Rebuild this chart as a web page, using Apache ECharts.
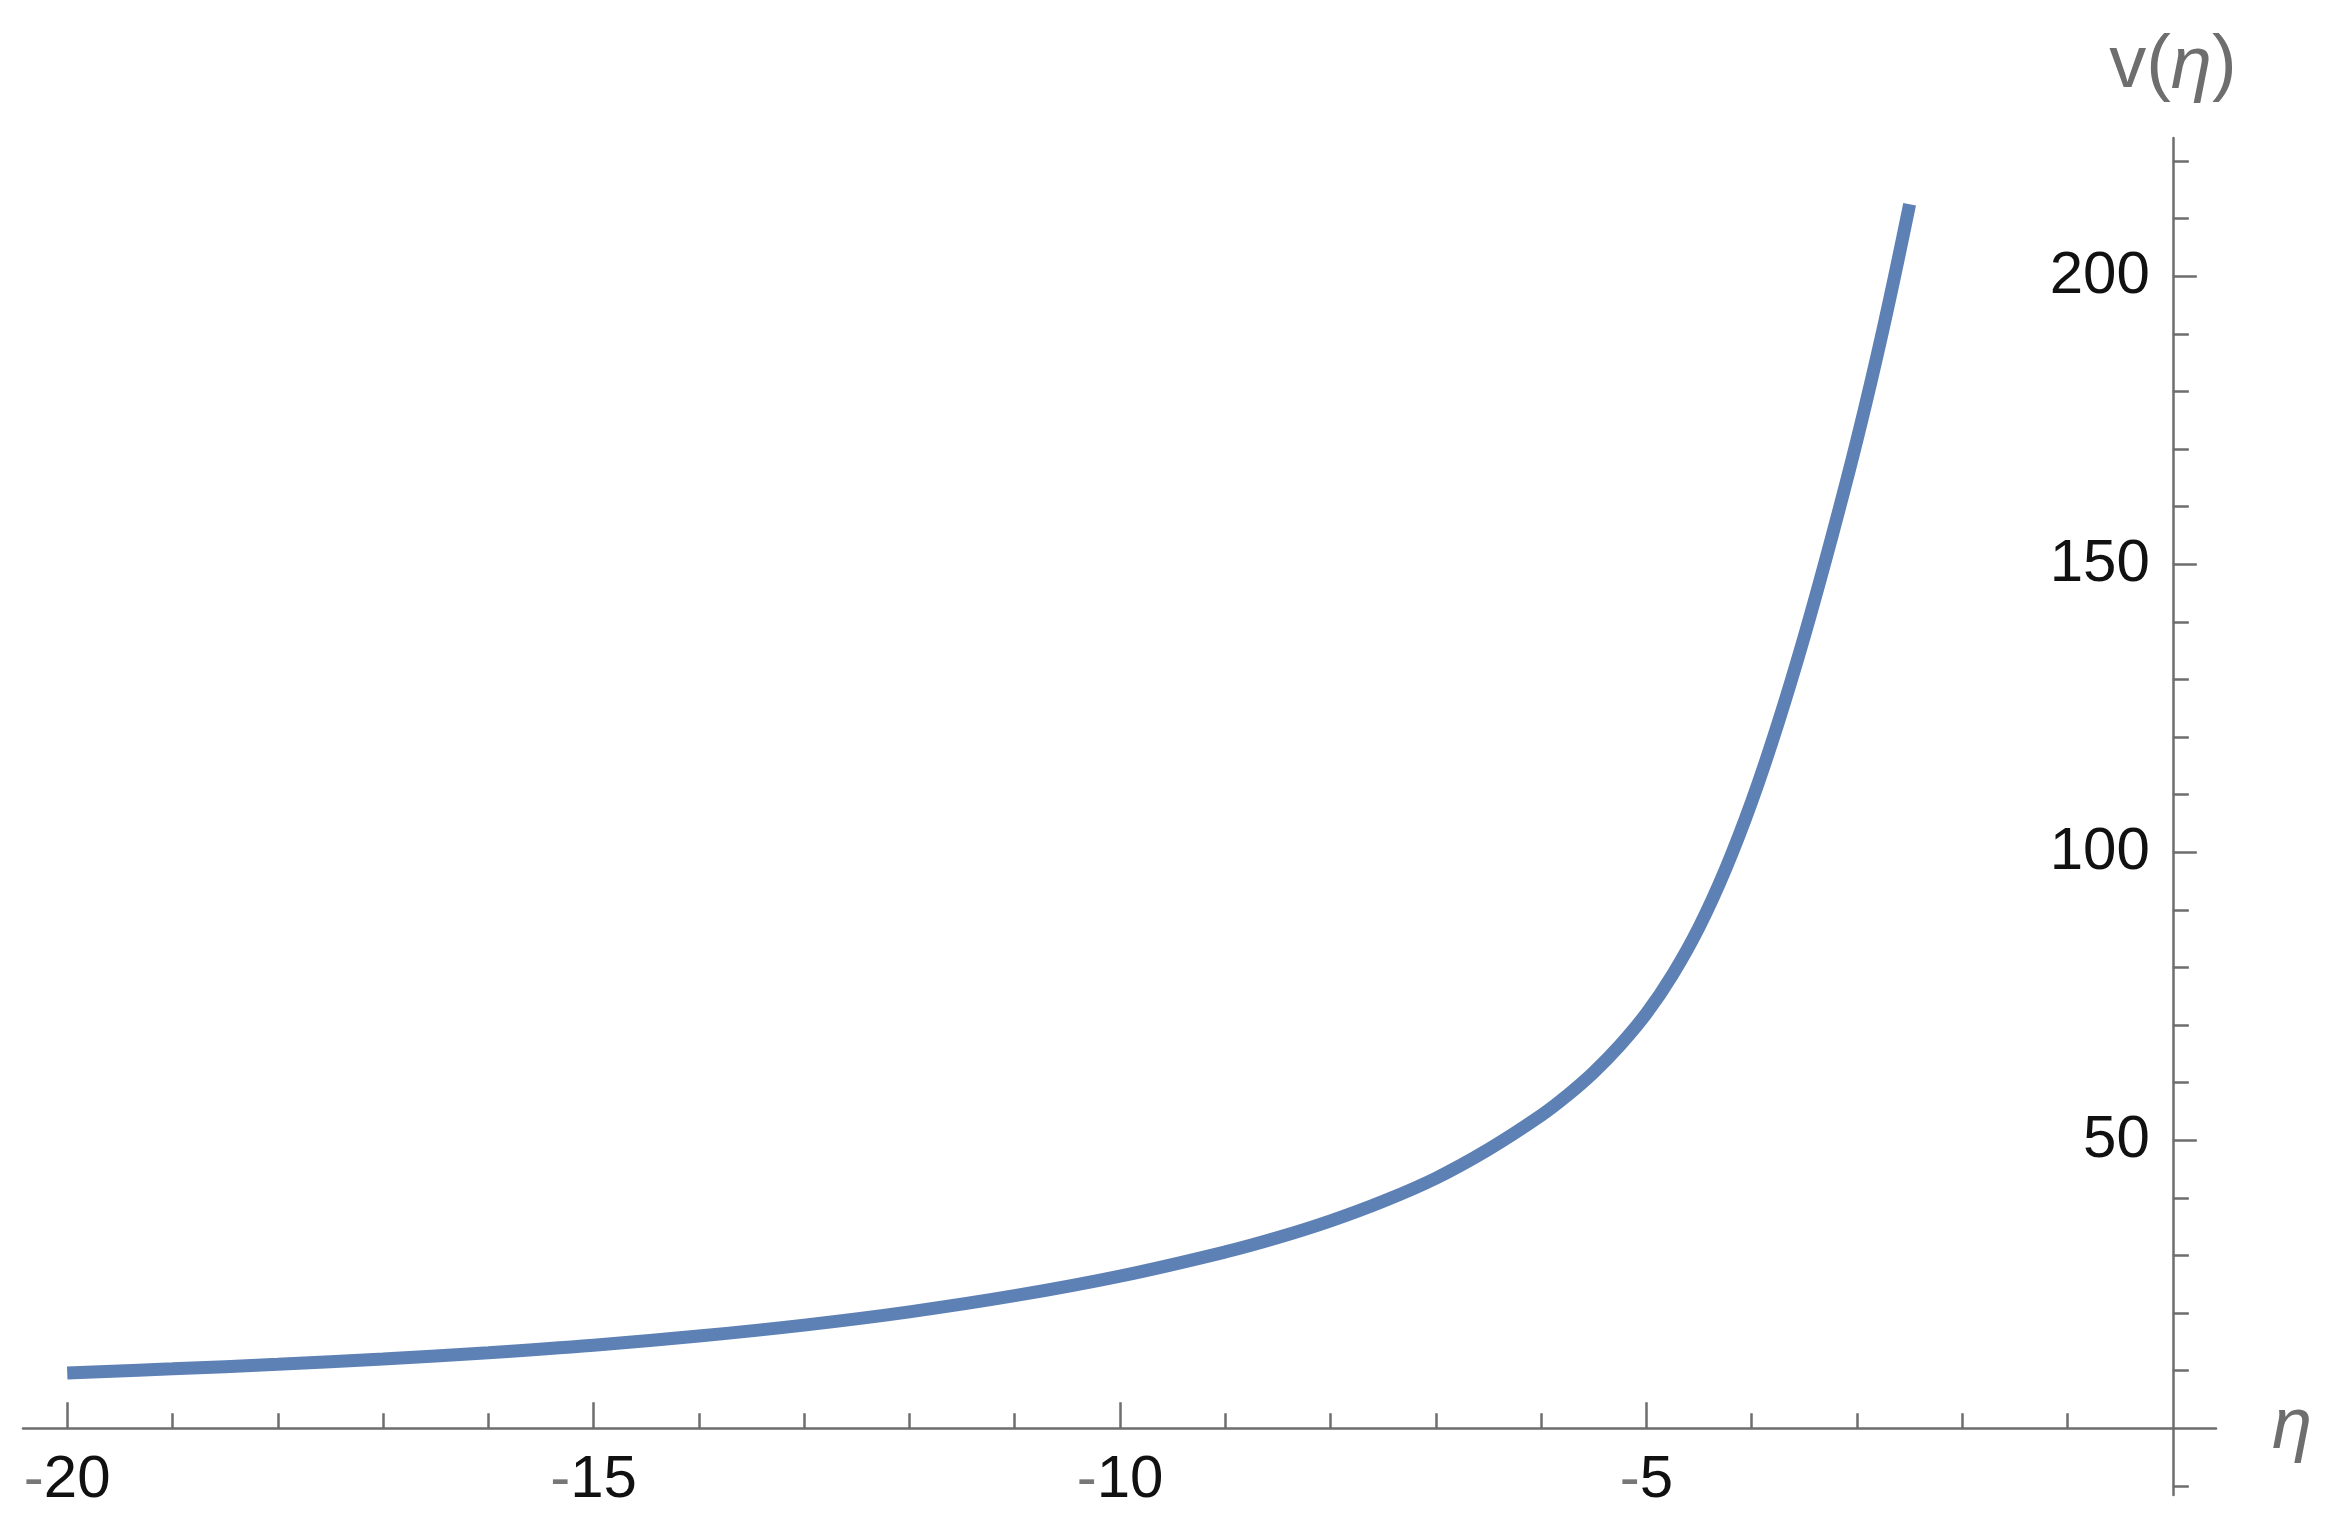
<!DOCTYPE html>
<html><head><meta charset="utf-8">
<script src="https://cdn.jsdelivr.net/npm/echarts@6/dist/echarts.min.js"></script>
<style>html,body{margin:0;padding:0;background:#fff}#c{width:2332px;height:1531px}</style>
</head><body><div id="c"></div>
<script>
const etaValues = [-20, -19, -18, -17, -16, -15, -14, -13, -12, -11, -10, -9, -8.5, -8, -7.5, -7, -6.5, -6, -5.75, -5.5, -5.25, -5, -4.75, -4.5, -4.25, -4, -3.75, -3.5, -3.25, -3, -2.75, -2.5];
const vValues   = [9.6, 10.3, 11.1, 12.0, 13.1, 14.4, 16.0, 17.9, 20.2, 23.0, 26.4, 30.6, 33.1, 36.0, 39.4, 43.4, 48.4, 54.3, 57.8, 61.8, 66.5, 72.0, 78.8, 87.0, 97.0, 108.8, 122.4, 137.5, 154.0, 171.6, 191.0, 212.5];
const xMajorTicks = [-20, -15, -10, -5];
const xMinorTicks = [-19, -18, -17, -16, -14, -13, -12, -11, -9, -8, -7, -6, -4, -3, -2, -1];
const yMajorTicks = [50, 100, 150, 200];
const yMinorTicks = [-10, 10, 20, 30, 40, 60, 70, 80, 90, 110, 120, 130, 140, 160, 170, 180, 190, 210, 220];

const W = 2332, H = 1531;
const G = { left: 23, right: 116, top: 138, bottom: 36 };
const X_MIN = -20.42, X_MAX = 0.41, Y_MIN = -11.6, Y_MAX = 224;
const plotW = W - G.left - G.right, plotH = H - G.top - G.bottom;
const px0 = G.left + (0 - X_MIN) / (X_MAX - X_MIN) * plotW;
const py0 = G.top + (Y_MAX - 0) / (Y_MAX - Y_MIN) * plotH;
const xAxisOffset = -((H - G.bottom) - py0);
const yAxisOffset = -(px0 - G.left);

const AX = '#6e6e6e';
const FONT = '"Liberation Sans", Arial, sans-serif';
const lbl = v => v < 0 ? '{m|-}{d|' + (-v) + '}' : '{d|' + v + '}';
const rich = { m: { color: '#777', fontSize: 60, fontFamily: FONT }, d: { color: '#111', fontSize: 60, fontFamily: FONT } };

const chart = echarts.init(document.getElementById('c'), null, { renderer: 'canvas' });
chart.setOption({
  animation: false,
  backgroundColor: '#fff',
  grid: { left: G.left, right: G.right, top: G.top, bottom: G.bottom, containLabel: false, outerBoundsMode: 'none' },
  xAxis: [
    {
      type: 'value', min: X_MIN, max: X_MAX, position: 'bottom', offset: xAxisOffset,
      axisLine: { show: true, onZero: false, lineStyle: { color: AX, width: 2.5 } },
      axisTick: { show: true, inside: true, length: 26, customValues: xMajorTicks, lineStyle: { color: AX, width: 2.5 } },
      axisLabel: { show: true, customValues: xMajorTicks, margin: 22, formatter: lbl, rich: rich, fontSize: 60, fontFamily: FONT },
      splitLine: { show: false },
      name: 'η', nameLocation: 'end', nameGap: 56,
      nameTextStyle: { fontStyle: 'italic', fontSize: 72, color: AX, fontFamily: FONT, verticalAlign: 'middle', padding: [8, 0, 0, 0] }
    },
    {
      type: 'value', min: X_MIN, max: X_MAX, position: 'bottom', offset: xAxisOffset,
      axisLine: { show: false, onZero: false },
      axisTick: { show: true, inside: true, length: 15, customValues: xMinorTicks, lineStyle: { color: AX, width: 2.5 } },
      axisLabel: { show: false },
      splitLine: { show: false }
    }
  ],
  yAxis: [
    {
      type: 'value', min: Y_MIN, max: Y_MAX, position: 'left', offset: yAxisOffset,
      axisLine: { show: true, onZero: false, lineStyle: { color: AX, width: 2.5 } },
      axisTick: { show: true, inside: true, length: 24, customValues: yMajorTicks, lineStyle: { color: AX, width: 2.5 } },
      axisLabel: { show: true, customValues: yMajorTicks, margin: 23, formatter: lbl, rich: rich, fontSize: 60, fontFamily: FONT },
      splitLine: { show: false },
      name: '{r|v(}{i|η}{r|)}', nameLocation: 'end', nameGap: 34,
      nameTextStyle: {
        color: AX, align: 'center',
        rich: { r: { fontSize: 74, color: AX, fontFamily: FONT }, i: { fontSize: 74, color: AX, fontStyle: 'italic', fontFamily: FONT } }
      }
    },
    {
      type: 'value', min: Y_MIN, max: Y_MAX, position: 'left', offset: yAxisOffset,
      axisLine: { show: false, onZero: false },
      axisTick: { show: true, inside: true, length: 16, customValues: yMinorTicks, lineStyle: { color: AX, width: 2.5 } },
      axisLabel: { show: false },
      splitLine: { show: false }
    }
  ],
  series: [{
    type: 'line', xAxisIndex: 0, yAxisIndex: 0,
    data: etaValues.map((e, i) => [e, vValues[i]]),
    showSymbol: false, smooth: 0.4,
    lineStyle: { color: '#5E81B5', width: 13 }
  }]
});
</script>
</body></html>
